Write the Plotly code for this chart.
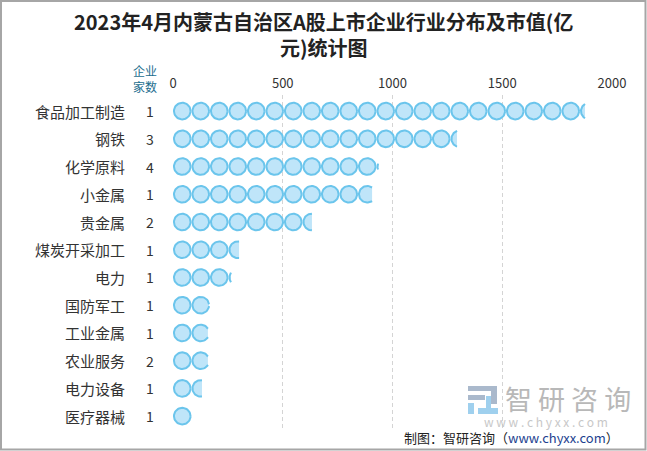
import math
import plotly.graph_objects as go

# data
industries = ['食品加工制造', '钢铁', '化学原料', '小金属', '贵金属', '煤炭开采加工',
              '电力', '国防军工', '工业金属', '农业服务', '电力设备', '医疗器械']
market_value = [1877, 1294, 934, 907, 633, 301, 264, 164, 159, 159, 132, 82]
company_count = [1, 3, 4, 1, 2, 1, 1, 1, 1, 2, 1, 1]
x_ticks = [0, 500, 1000, 1500, 2000]

TITLE = '2023年4月内蒙古自治区A股上市企业行业分布及市值(亿<br>元)统计图'
FONT = 'Noto Sans CJK SC'

W, H = 647, 451
M_L, M_R, M_T, M_B = 173, 35, 95, 21
X_MAX = 2000
Y_RANGE = [11.5, -0.58]

PLOT_W = W - M_L - M_R
PLOT_H = H - M_T - M_B
KX = PLOT_W / X_MAX                           # px per value unit
KY = PLOT_H / (Y_RANGE[0] - Y_RANGE[1])       # px per row

STEP = 18.5     # symbol pitch in px
R = 8.3         # circle radius (stroke centre) in px

FILL = '#bfe5f9'
EDGE = '#6bc5ec'


def px_x(p):
    return (p - M_L) / PLOT_W


def px_y(p):
    return (H - M_B - p) / PLOT_H


def symbol_path(value, row):
    """Repeated circles up to value, last one clipped (pictorial bar)."""
    xs, ys = [], []
    vpx = value * KX
    n = math.ceil(vpx / STEP)
    for k in range(n):
        cx = (k + 0.5) * STEP
        rel = (vpx - cx) / R
        if rel <= -1:
            continue
        if rel >= 1:
            th = [2 * math.pi * j / 48 for j in range(49)]
        else:
            t0 = math.acos(rel)
            th = [t0 + (2 * math.pi - 2 * t0) * j / 40 for j in range(41)]
        for t in th:
            xs.append((cx + R * math.cos(t)) / KX)
            ys.append(row - R * math.sin(t) / KY)
        xs.append(None)
        ys.append(None)
    return xs, ys


fig = go.Figure()

for i, (name, v) in enumerate(zip(industries, market_value)):
    xs, ys = symbol_path(v, i)
    fig.add_trace(go.Scatter(
        x=xs, y=ys, mode='lines', fill='toself',
        fillcolor=FILL, line=dict(color=EDGE, width=2),
        name=name, showlegend=False, hoverinfo='skip',
    ))


def note(x, y, text, size, color, xanchor='center', yref='paper', **kw):
    return dict(xref='paper', yref=yref, x=x, y=y, text=text,
                xanchor=xanchor, yanchor='middle', showarrow=False,
                font=dict(family=FONT, size=size, color=color, **kw))


annotations = []
for i, (name, c) in enumerate(zip(industries, company_count)):
    annotations.append(note(px_x(127), i, name, 15, '#333333', 'right', 'y'))
    annotations.append(note(px_x(150), i, str(c), 14, '#333333', 'center', 'y'))

# title
annotations.append(note(px_x(W / 2), px_y(35), TITLE, 20, '#222222', weight='bold'))

# header of the count column
annotations.append(note(px_x(145), px_y(78.5), '企业<br>家数', 12, '#1b6d8e'))

# watermark + source
annotations.append(note(px_x(503), px_y(398), '智 研 咨 询', 27, '#b8b8b8', 'left'))
annotations.append(note(px_x(546), px_y(421), 'w w w . c h y x x . c o m', 12, '#c8c8c8'))
annotations.append(note(
    px_x(621), px_y(437),
    '制图：智研咨询（<span style="color:#1d3f8f">www.chyxx.com</span>）',
    13, '#222222', 'right'))

shapes = [
    # outer border
    dict(type='rect', xref='paper', yref='paper',
         x0=px_x(1), x1=px_x(645.5), y0=px_y(1), y1=px_y(449.5),
         line=dict(color='#a6a6a6', width=2), layer='above'),
    # logo blocks
    dict(type='rect', xref='paper', yref='paper', x0=px_x(468), x1=px_x(497),
         y0=px_y(386), y1=px_y(391), fillcolor='#aab9cc', line=dict(width=0)),
    dict(type='rect', xref='paper', yref='paper', x0=px_x(491), x1=px_x(497),
         y0=px_y(386), y1=px_y(404), fillcolor='#aab9cc', line=dict(width=0)),
    dict(type='rect', xref='paper', yref='paper', x0=px_x(468), x1=px_x(485),
         y0=px_y(395), y1=px_y(400), fillcolor='#aab9cc', line=dict(width=0)),
    dict(type='rect', xref='paper', yref='paper', x0=px_x(468), x1=px_x(474),
         y0=px_y(403), y1=px_y(414), fillcolor='#9fd0ee', line=dict(width=0)),
    dict(type='rect', xref='paper', yref='paper', x0=px_x(478), x1=px_x(498),
         y0=px_y(408), y1=px_y(414), fillcolor='#9fd0ee', line=dict(width=0)),
    dict(type='rect', xref='paper', yref='paper', x0=px_x(486), x1=px_x(491),
         y0=px_y(396), y1=px_y(410), fillcolor='#9fd0ee', line=dict(width=0)),
]

fig.update_layout(
    width=W, height=H,
    margin=dict(l=M_L, r=M_R, t=M_T, b=M_B),
    paper_bgcolor='white', plot_bgcolor='white',
    font=dict(family=FONT, color='#333333'),
    annotations=annotations,
    shapes=shapes,
    showlegend=False,
)

fig.update_xaxes(
    range=[0, X_MAX], side='top', tickvals=x_ticks,
    tickfont=dict(family=FONT, size=13, color='#333333'),
    showgrid=True, gridcolor='#d4d4d4', griddash='4px,3px', gridwidth=1,
    zeroline=False, showline=False, ticks='', ticklabelstandoff=3,
    fixedrange=True,
)
fig.update_yaxes(
    range=Y_RANGE, showgrid=False, zeroline=False, showline=False,
    showticklabels=False, ticks='', fixedrange=True,
)

fig.write_html('out.html', config=dict(displayModeBar=False),
               post_script="document.body.style.margin='0';")
